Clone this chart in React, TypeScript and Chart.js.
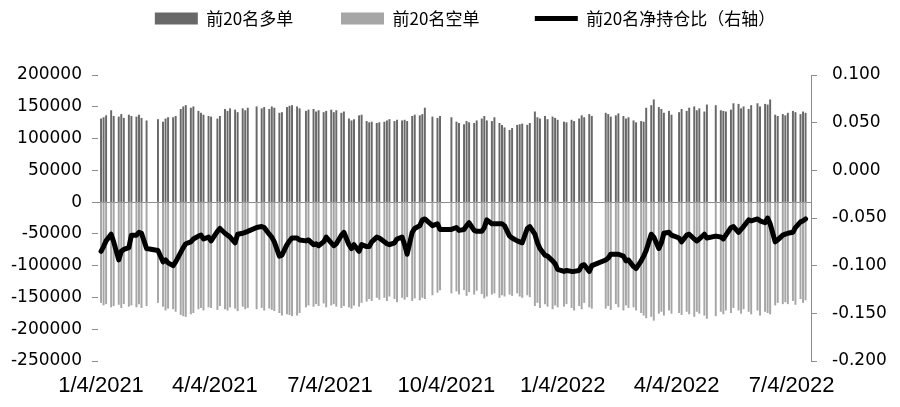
import React, { useEffect, useRef } from 'react';
import { Chart, registerables } from 'chart.js';

Chart.register(...registerables);

// ---- calendar (trading days; every other trading day is plotted) ----
const START = '2021-01-04';
const END = '2022-07-15';
const HOLIDAYS = [
  '2021-02-11', '2021-02-12', '2021-02-15', '2021-02-16', '2021-02-17',
  '2021-04-05', '2021-05-03', '2021-05-04', '2021-05-05', '2021-06-14',
  '2021-09-20', '2021-09-21', '2021-10-01', '2021-10-04', '2021-10-05',
  '2021-10-06', '2021-10-07', '2022-01-03', '2022-01-31', '2022-02-01',
  '2022-02-02', '2022-02-03', '2022-02-04', '2022-04-04', '2022-04-05',
  '2022-05-02', '2022-05-03', '2022-05-04', '2022-06-03',
];

const TICK_DATES = ['2021-01-04', '2021-04-04', '2021-07-04', '2021-10-04', '2022-01-04', '2022-04-04', '2022-07-04'];
const TICK_LABELS = ['1/4/2021', '4/4/2021', '7/4/2021', '10/4/2021', '1/4/2022', '4/4/2022', '7/4/2022'];
const SERIES_NAMES = ['前20名多单', '前20名空单', '前20名净持仓比（右轴）'];

// 前20名多单 (lots)
const longs = [
  // 2021-01
  131000, 133000, 136000, 144000, 135000, 134000, 138000, 132000, 137000, 135000,
  // 2021-02
  134000, 137000, 132000, 128000, 130000, 126000, 131000, 133000,
  // 2021-03
  133000, 135000, 146000, 150000, 152000, 148000, 150000, 143000, 140000, 137000, 135000,
  // 2021-04
  134000, 131000, 135000, 146000, 143000, 147000, 145000, 141000, 147000, 144000, 148000,
  // 2021-05
  150000, 147000, 149000, 146000, 150000, 148000, 140000, 141000, 149000,
  // 2021-06
  151000, 152000, 150000, 147000, 143000, 145000, 146000, 142000, 144000, 141000,
  // 2021-07
  143000, 145000, 141000, 144000, 140000, 142000, 131000, 128000, 130000, 136000, 137000,
  // 2021-08
  127000, 125000, 126000, 124000, 125000, 126000, 128000, 130000, 127000, 129000, 128000,
  // 2021-09
  129000, 127000, 135000, 137000, 136000, 138000, 148000, 134000, 132000, 135000,
  // 2021-10
  133000, 126000, 124000, 122000, 127000, 125000, 124000, 128000,
  // 2021-11
  131000, 135000, 128000, 127000, 133000, 124000, 121000, 117000, 113000, 116000, 121000,
  // 2021-12
  122000, 123000, 121000, 124000, 142000, 133000, 131000, 135000, 130000, 134000, 132000, 129000,
  // 2022-01
  126000, 125000, 129000, 127000, 131000, 136000, 133000, 138000, 135000,
  // 2022-02
  140000, 138000, 134000, 136000, 139000, 135000, 131000, 133000,
  // 2022-03
  128000, 125000, 127000, 126000, 148000, 152000, 161000, 149000, 146000, 140000, 143000, 137000,
  // 2022-04
  141000, 146000, 143000, 148000, 150000, 144000, 147000, 142000, 153000,
  // 2022-05
  152000, 144000, 143000, 142000, 145000, 155000, 154000, 147000, 150000, 146000,
  // 2022-06
  152000, 155000, 150000, 154000, 153000, 161000, 137000, 135000, 138000, 136000,
  // 2022-07
  140000, 143000, 141000, 138000, 142000, 140000,
];

// 前20名空单 (lots)
const shorts = [
  // 2021-01
  -158000, -162000, -160000, -165000, -163000, -161000, -166000, -160000, -164000, -162000,
  // 2021-02
  -165000, -160000, -166000, -163000, -158000, -164000, -170000, -167000,
  // 2021-03
  -168000, -172000, -177000, -179000, -180000, -176000, -174000, -168000, -166000, -170000, -165000,
  // 2021-04
  -166000, -169000, -163000, -168000, -170000, -165000, -167000, -171000, -164000, -168000, -166000,
  // 2021-05
  -168000, -166000, -170000, -167000, -169000, -171000, -174000, -178000, -176000,
  // 2021-06
  -177000, -179000, -178000, -174000, -165000, -162000, -164000, -160000, -163000, -159000,
  // 2021-07
  -165000, -162000, -160000, -164000, -166000, -163000, -165000, -167000, -162000, -164000, -158000,
  // 2021-08
  -156000, -152000, -155000, -150000, -153000, -150000, -155000, -148000, -152000, -157000, -150000,
  // 2021-09
  -153000, -149000, -155000, -151000, -154000, -150000, -152000, -146000, -142000, -138000,
  // 2021-10
  -143000, -140000, -145000, -138000, -147000, -141000, -145000, -139000,
  // 2021-11
  -144000, -151000, -148000, -145000, -143000, -150000, -146000, -148000, -145000, -147000, -143000,
  // 2021-12
  -148000, -150000, -146000, -149000, -163000, -158000, -166000, -160000, -164000, -168000, -162000, -165000,
  // 2022-01
  -164000, -160000, -166000, -170000, -163000, -168000, -158000, -165000, -167000,
  // 2022-02
  -167000, -163000, -169000, -160000, -165000, -170000, -162000, -166000,
  // 2022-03
  -165000, -170000, -174000, -178000, -182000, -180000, -186000, -175000, -172000, -178000, -170000, -175000,
  // 2022-04
  -174000, -177000, -172000, -176000, -180000, -172000, -175000, -178000, -183000,
  // 2022-05
  -179000, -172000, -176000, -170000, -174000, -166000, -170000, -175000, -168000, -172000,
  // 2022-06
  -176000, -170000, -178000, -172000, -174000, -176000, -162000, -158000, -160000, -157000,
  // 2022-07
  -160000, -155000, -161000, -152000, -158000, -154000,
];

// 前20名净持仓比 (right axis)
const netRatio = [
  // 2021-01
  -0.085, -0.080, -0.074, -0.067, -0.075, -0.094, -0.085, -0.083, -0.081, -0.068,
  // 2021-02
  -0.068, -0.065, -0.066, -0.082, -0.084, -0.096, -0.094, -0.097,
  // 2021-03
  -0.100, -0.096, -0.086, -0.081, -0.077, -0.075, -0.072, -0.069, -0.068, -0.072, -0.070,
  // 2021-04
  -0.074, -0.064, -0.061, -0.066, -0.068, -0.070, -0.076, -0.067, -0.066, -0.065, -0.064,
  // 2021-05
  -0.060, -0.059, -0.060, -0.067, -0.070, -0.075, -0.090, -0.089, -0.078,
  // 2021-06
  -0.074, -0.071, -0.071, -0.073, -0.074, -0.073, -0.078, -0.077, -0.079, -0.075,
  // 2021-07
  -0.070, -0.076, -0.079, -0.077, -0.068, -0.065, -0.078, -0.082, -0.078, -0.085, -0.078,
  // 2021-08
  -0.080, -0.080, -0.075, -0.070, -0.071, -0.075, -0.077, -0.078, -0.076, -0.072, -0.070,
  // 2021-09
  -0.078, -0.088, -0.065, -0.061, -0.058, -0.052, -0.051, -0.058, -0.056, -0.062,
  // 2021-10
  -0.062, -0.060, -0.063, -0.062, -0.058, -0.055, -0.063, -0.064,
  // 2021-11
  -0.064, -0.060, -0.052, -0.056, -0.056, -0.056, -0.056, -0.058, -0.069, -0.071, -0.074,
  // 2021-12
  -0.075, -0.076, -0.061, -0.059, -0.067, -0.076, -0.082, -0.089, -0.090, -0.095, -0.098, -0.104,
  // 2022-01
  -0.106, -0.105, -0.106, -0.106, -0.105, -0.100, -0.099, -0.106, -0.100,
  // 2022-02
  -0.094, -0.092, -0.088, -0.088, -0.088, -0.090, -0.095, -0.094,
  // 2022-03
  -0.101, -0.103, -0.095, -0.090, -0.084, -0.067, -0.070, -0.082, -0.076, -0.066, -0.065, -0.068,
  // 2022-04
  -0.071, -0.075, -0.068, -0.067, -0.072, -0.074, -0.072, -0.067, -0.071,
  // 2022-05
  -0.069, -0.070, -0.072, -0.068, -0.060, -0.059, -0.065, -0.062, -0.059, -0.052,
  // 2022-06
  -0.053, -0.051, -0.053, -0.055, -0.050, -0.056, -0.075, -0.073, -0.068, -0.067,
  // 2022-07
  -0.066, -0.065, -0.060, -0.054, -0.053, -0.051,
];

const DAY_MS = 86400000;
const toUTC = (s: string) => Date.parse(s + 'T00:00:00Z');
const dayIndex = (s: string) => (toUTC(s) - toUTC(START)) / DAY_MS;

function sampledTradingDays(): number[] {
  const hol = new Set(HOLIDAYS);
  const out: number[] = [];
  const t0 = toUTC(START);
  const tEnd = toUTC(END);
  let k = 0;
  for (let t = t0; t <= tEnd; t += DAY_MS) {
    const d = new Date(t);
    const wd = d.getUTCDay();
    if (wd === 0 || wd === 6) continue;
    if (hol.has(d.toISOString().slice(0, 10))) continue;
    if (k % 2 === 0) out.push((t - t0) / DAY_MS);
    k++;
  }
  return out;
}

const LEGEND_SPACERS = ['\u3000\u3000 ', '\u3000\u3000   ', ''];

export default function App() {
  const canvasRef = useRef<HTMLCanvasElement | null>(null);

  useEffect(() => {
    const canvas = canvasRef.current;
    if (!canvas) return;
    const days = sampledTradingDays();
    const n = Math.min(days.length, longs.length, shorts.length, netRatio.length);
    const longData = [] as { x: number; y: number }[];
    const shortData = [] as { x: number; y: number }[];
    const ratioData = [] as { x: number; y: number }[];
    for (let i = 0; i < n; i++) {
      longData.push({ x: days[i], y: longs[i] });
      shortData.push({ x: days[i], y: shorts[i] });
      ratioData.push({ x: days[i], y: netRatio[i] });
    }
    const tickDays = TICK_DATES.map(dayIndex);

    const legendBand = {
      id: 'legendBand',
      beforeLayout(chart: any) {
        const lg = chart.legend;
        if (lg && !lg.__patched) {
          const f = lg.fit.bind(lg);
          lg.fit = function () {
            f();
            this.height = 75;
          };
          lg.__patched = true;
        }
      },
      afterLayout(chart: any) {
        const lg = chart.legend;
        if (lg) {
          lg.left += 10;
          lg.right += 10;
        }
      },
    };

    const chart = new Chart(canvas, {
      type: 'bar',
      data: {
        datasets: [
          {
            type: 'bar',
            label: SERIES_NAMES[0],
            data: longData,
            backgroundColor: '#686868',
            barThickness: 1.3,
            grouped: false,
            yAxisID: 'y',
            order: 1,
          } as any,
          {
            type: 'bar',
            label: SERIES_NAMES[1],
            data: shortData,
            backgroundColor: '#a6a6a6',
            barThickness: 1.3,
            grouped: false,
            yAxisID: 'y',
            order: 1,
          } as any,
          {
            type: 'line',
            label: SERIES_NAMES[2],
            data: ratioData,
            borderColor: '#000000',
            backgroundColor: '#000000',
            borderWidth: 5,
            pointRadius: 0,
            tension: 0,
            borderJoinStyle: 'round',
            borderCapStyle: 'round',
            yAxisID: 'y1',
            order: 0,
          } as any,
        ],
      },
      options: {
        responsive: false,
        animation: false,
        layout: { padding: { left: 10, right: 0, top: 0, bottom: 0 } },
        plugins: {
          tooltip: { enabled: false },
          legend: {
            position: 'top',
            labels: {
              usePointStyle: true,
              pointStyleWidth: 43,
              boxHeight: 12,
              padding: 10,
              color: '#000',
              font: { family: "'Noto Sans CJK SC', sans-serif", size: 17 },
              sort: (a: any, b: any) => a.datasetIndex - b.datasetIndex,
              generateLabels: (c: any) => {
                const items = (Chart.defaults.plugins.legend.labels as any).generateLabels(c);
                return items.map((it: any) => {
                  const isLine = it.datasetIndex === 2;
                  return {
                    ...it,
                    text: it.text + LEGEND_SPACERS[it.datasetIndex],
                    pointStyle: isLine ? 'line' : 'rect',
                    lineWidth: isLine ? 5 : 0,
                    strokeStyle: isLine ? '#000' : it.fillStyle,
                  };
                });
              },
            },
          },
        },
        scales: {
          x: {
            type: 'linear',
            offset: false,
            min: -2.4,
            max: 561.3,
            afterBuildTicks: (s: any) => {
              s.ticks = tickDays.map((v) => ({ value: v }));
            },
            afterFit: (s: any) => {
              s.height = 46;
            },
            ticks: {
              autoSkip: false,
              maxRotation: 0,
              minRotation: 0,
              padding: 12,
              color: '#000',
              font: { family: "'Liberation Sans', sans-serif", size: 22 },
              callback: (v: any) => {
                const i = tickDays.indexOf(Number(v));
                return i >= 0 ? TICK_LABELS[i] : '';
              },
            },
            grid: { display: false, drawTicks: false, offset: false },
            border: { display: false },
          },
          y: {
            type: 'linear',
            position: 'left',
            min: -250000,
            max: 200000,
            afterFit: (s: any) => {
              s.width = 88;
            },
            ticks: {
              stepSize: 50000,
              padding: 10,
              color: '#000',
              font: { family: "'DejaVu Sans', sans-serif", size: 17 },
              callback: (v: any) => String(Math.round(Number(v))),
            },
            grid: {
              color: (ctx: any) => (ctx.tick && ctx.tick.value === 0 ? '#8c8c8c' : 'rgba(0,0,0,0)'),
              tickColor: '#8c8c8c',
              tickLength: 6,
              lineWidth: 1,
            },
            border: { display: false },
          },
          y1: {
            type: 'linear',
            position: 'right',
            min: -0.2,
            max: 0.1,
            afterFit: (s: any) => {
              s.width = 89;
            },
            ticks: {
              stepSize: 0.05,
              padding: 15,
              color: '#000',
              font: { family: "'DejaVu Sans', sans-serif", size: 17 },
              callback: (v: any) => {
                const num = Number(v);
                return Math.abs(num) < 1e-9 ? '0.000' : num.toFixed(3);
              },
            },
            grid: { drawOnChartArea: false, tickColor: '#8c8c8c', tickLength: 6 },
            border: { display: true, color: '#8c8c8c' },
          },
        },
      } as any,
      plugins: [legendBand],
    });

    return () => chart.destroy();
  }, []);

  return (
    <div style={{ position: 'fixed', left: 0, top: 0, width: 900, height: 407, background: '#fff' }}>
      <canvas ref={canvasRef} width={900} height={407} style={{ display: 'block' }} />
    </div>
  );
}
